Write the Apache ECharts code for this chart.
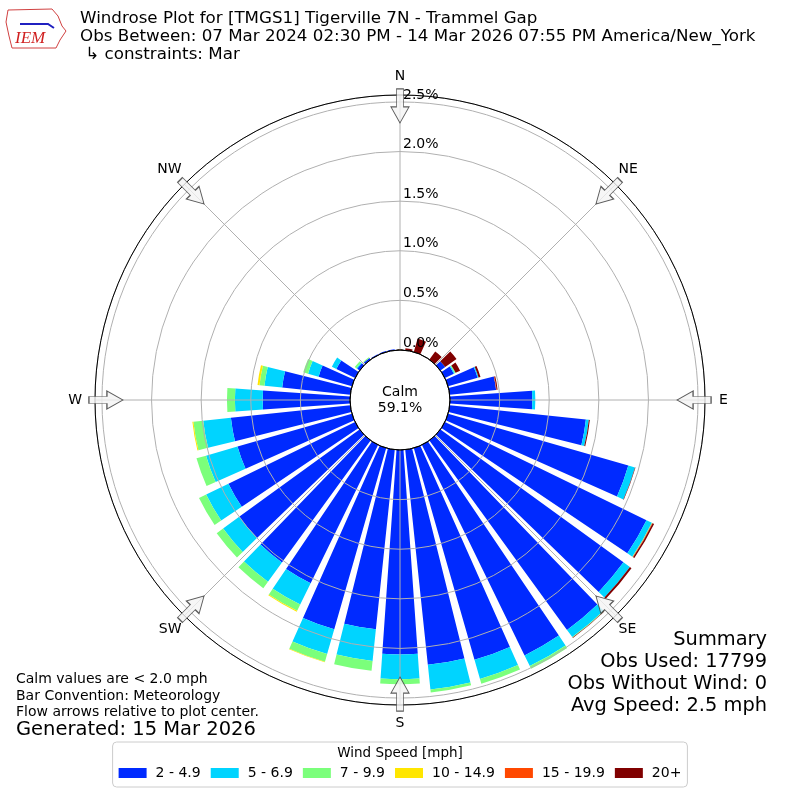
<!DOCTYPE html>
<html>
<head>
<meta charset="utf-8">
<title>Windrose TMGS1</title>
<script src="https://cdn.jsdelivr.net/npm/echarts@6/dist/echarts.min.js"></script>
<style>
html, body { margin: 0; padding: 0; background: #fff; }
#chart { width: 800px; height: 800px; }
</style>
</head>
<body>
<div id="chart"></div>
<script>
// direction bins, degrees from north (bin centres)
var directions = [0, 10, 20, 30, 40, 50, 60, 70, 80, 90, 100, 110, 120, 130, 140, 150, 160, 170,
                  180, 190, 200, 210, 220, 230, 240, 250, 260, 270, 280, 290, 300, 310, 320, 330, 340, 350];
var speedBins = ['2 - 4.9', '5 - 6.9', '7 - 9.9', '10 - 14.9', '15 - 19.9', '20+'];

// percent of observations, one value per direction bin
var spd2to5 = [0.005, 0, 0, 0, 0, 0.06, 0.10, 0.31, 0.47, 0.83, 1.38, 1.89, 2.26, 2.28, 2.36, 2.36, 2.22, 2.18,
               2.06, 1.82, 1.90, 1.55, 1.52, 1.50, 1.42, 1.20, 1.21, 0.88, 0.69, 0.35, 0.21, 0.03, 0.02, 0.01, 0.01, 0.01];
var spd5to7 = [0, 0, 0, 0, 0, 0, 0.01, 0.01, 0, 0.03, 0.03, 0.07, 0.06, 0.08, 0.09, 0.12, 0.20, 0.25,
               0.25, 0.32, 0.26, 0.24, 0.24, 0.20, 0.25, 0.33, 0.28, 0.28, 0.18, 0.11, 0.05, 0.01, 0, 0, 0, 0];
var spd7to10 = [0, 0, 0, 0, 0, 0, 0.01, 0, 0, 0, 0, 0, 0.005, 0, 0.005, 0.03, 0.05, 0.03,
                0.05, 0.10, 0.08, 0.07, 0.08, 0.08, 0.08, 0.10, 0.10, 0.08, 0.05, 0.05, 0, 0.02, 0.01, 0, 0, 0];
var spd10to15 = [0, 0, 0, 0, 0, 0, 0, 0, 0, 0, 0, 0, 0, 0, 0, 0, 0, 0,
                 0, 0, 0.005, 0.01, 0, 0, 0, 0, 0.01, 0, 0.02, 0, 0, 0, 0, 0, 0, 0];
var spd15to20 = [0, 0, 0, 0, 0, 0, 0, 0, 0.005, 0, 0, 0, 0.005, 0, 0, 0, 0, 0,
                 0, 0, 0, 0, 0, 0, 0, 0, 0, 0, 0, 0, 0, 0, 0, 0, 0, 0];
var spd20up = [0, 0.02, 0.14, 0, 0.10, 0.14, 0.05, 0.02, 0.01, 0, 0.01, 0.005, 0.015, 0.02, 0.005, 0, 0, 0,
               0, 0, 0, 0, 0, 0, 0, 0, 0, 0, 0, 0, 0, 0, 0, 0, 0, 0];

var compassLabels = ['N', 'NE', 'E', 'SE', 'S', 'SW', 'W', 'NW'];
var compassAngles = [0, 45, 90, 135, 180, 225, 270, 315];

var speedColors = ['#002aff', '#00d4ff', '#7bff7b', '#ffe600', '#ff4800', '#800000'];
var speedData = [spd2to5, spd5to7, spd7to10, spd10to15, spd15to20, spd20up];
var FONT = 'DejaVu Sans';
var gridGray = '#b0b0b0';

var myChart = echarts.init(document.getElementById('chart'));

var series = speedBins.map(function (name, i) {
    return {
        name: name,
        type: 'bar',
        coordinateSystem: 'polar',
        polarIndex: 1,
        stack: 'wind',
        barCategoryGap: '20%',
        data: speedData[i],
        itemStyle: { color: speedColors[i] },
        silent: true
    };
});

// flow arrows, pointing to the plot centre
series.push({
    type: 'scatter',
    coordinateSystem: 'polar',
    polarIndex: 0,
    symbol: 'path://M9,0 L18,16 L12.5,16 L12.5,34 L5.5,34 L5.5,16 L0,16 Z',
    symbolSize: [18, 34],
    silent: true,
    z: 20,
    itemStyle: { color: '#f4f4f4', borderColor: '#333', borderWidth: 1 },
    data: compassAngles.map(function (a) {
        return { value: [2.46, a], symbolRotate: 180 - a };
    })
});

// compass label nudges so they sit centred around the ring
var compassRich = {
    c0: { padding: [0, 0, 8, 0] },
    c1: { padding: [0, 0, 5, 0] },
    c2: { padding: [0, 0, 0, 10] },
    c3: { padding: [4, 0, 0, 0] },
    c4: { padding: [7, 0, 0, 0] },
    c5: { padding: [4, 0, 0, 0] },
    c6: { padding: [0, 9, 0, 0] },
    c7: { padding: [0, 0, 5, 0] }
};

var option = {
    animation: false,
    polar: [
        { center: ['50%', '50%'], radius: [50, 305] },
        { center: ['50%', '50%'], radius: [50, 305] }
    ],
    angleAxis: [
        {
            polarIndex: 0,
            type: 'value',
            min: 0,
            max: 360,
            interval: 45,
            startAngle: 90,
            clockwise: true,
            z: 10,
            axisLine: { lineStyle: { color: '#000', width: 1 } },
            axisTick: { show: false },
            axisLabel: {
                margin: 4,
                color: '#000',
                fontFamily: FONT,
                fontSize: 14,
                rich: compassRich,
                formatter: function (v) {
                    if (v >= 360) return '';
                    var k = Math.round(v / 45);
                    return '{c' + k + '|' + compassLabels[k] + '}';
                }
            },
            splitLine: { lineStyle: { color: gridGray, width: 1 } }
        },
        {
            polarIndex: 1,
            type: 'category',
            data: directions,
            startAngle: 95,
            clockwise: true,
            show: false
        }
    ],
    radiusAxis: [
        {
            polarIndex: 0,
            type: 'value',
            min: 0,
            max: 2.57,
            interval: 0.5,
            z: 10,
            axisLine: { show: false },
            axisTick: { show: false },
            axisLabel: {
                showMaxLabel: false,
                margin: -3,
                align: 'left',
                verticalAlign: 'bottom',
                color: '#000',
                fontFamily: FONT,
                fontSize: 14,
                formatter: function (v) { return v.toFixed(1) + '%'; }
            },
            splitLine: {
                lineStyle: {
                    color: ['#000', gridGray, gridGray, gridGray, gridGray, gridGray, gridGray],
                    width: 1
                }
            }
        },
        {
            polarIndex: 1,
            type: 'value',
            min: 0,
            max: 2.57,
            show: false
        }
    ],
    legend: {
        data: speedBins,
        left: 'center',
        top: 742,
        padding: [24, 6, 7, 6],
        itemWidth: 28,
        itemHeight: 10,
        itemGap: 10,
        icon: 'rect',
        borderColor: '#cccccc',
        borderWidth: 1,
        borderRadius: 4,
        textStyle: { fontFamily: FONT, fontSize: 14, color: '#000', padding: [0, 0, 0, 4] }
    },
    graphic: [
        { type: 'text', x: 80, y: 19, style: { text: 'Windrose Plot for [TMGS1] Tigerville 7N - Trammel Gap', font: '16.7px ' + FONT, fill: '#000', verticalAlign: 'middle' } },
        { type: 'text', x: 80, y: 37, style: { text: 'Obs Between: 07 Mar 2024 02:30 PM - 14 Mar 2026 07:55 PM America/New_York', font: '16.7px ' + FONT, fill: '#000', verticalAlign: 'middle' } },
        { type: 'text', x: 80, y: 55, style: { text: ' \u21b3 constraints: Mar', font: '16.7px ' + FONT, fill: '#000', verticalAlign: 'middle' } },
        { type: 'polygon', shape: { points: [[8, 10], [52, 9], [58, 16], [62, 26], [66, 31], [60, 40], [56, 48], [12, 48], [9, 36], [6, 22]] },
          style: { fill: 'none', stroke: '#d04040', lineWidth: 1 } },
        { type: 'polyline', shape: { points: [[20, 24], [48, 24], [54, 28]] }, style: { stroke: '#2020c0', lineWidth: 2 } },
        { type: 'text', x: 15, y: 39, style: { text: 'IEM', font: 'italic 17px "Liberation Serif"', fill: '#d02020', verticalAlign: 'middle' } },
        { type: 'text', x: 400, y: 392, z: 30, style: { text: 'Calm', font: '14px ' + FONT, fill: '#000', align: 'center', verticalAlign: 'middle' } },
        { type: 'text', x: 400, y: 408, z: 30, style: { text: '59.1%', font: '14px ' + FONT, fill: '#000', align: 'center', verticalAlign: 'middle' } },
        { type: 'text', x: 16, y: 679, style: { text: 'Calm values are < 2.0 mph', font: '14px ' + FONT, fill: '#000', verticalAlign: 'middle' } },
        { type: 'text', x: 16, y: 696, style: { text: 'Bar Convention: Meteorology', font: '14px ' + FONT, fill: '#000', verticalAlign: 'middle' } },
        { type: 'text', x: 16, y: 712, style: { text: 'Flow arrows relative to plot center.', font: '14px ' + FONT, fill: '#000', verticalAlign: 'middle' } },
        { type: 'text', x: 16, y: 730, style: { text: 'Generated: 15 Mar 2026', font: '19.5px ' + FONT, fill: '#000', verticalAlign: 'middle' } },
        { type: 'text', x: 767, y: 640, style: { text: 'Summary', font: '19.4px ' + FONT, fill: '#000', align: 'right', verticalAlign: 'middle' } },
        { type: 'text', x: 767, y: 662, style: { text: 'Obs Used: 17799', font: '19.4px ' + FONT, fill: '#000', align: 'right', verticalAlign: 'middle' } },
        { type: 'text', x: 767, y: 684, style: { text: 'Obs Without Wind: 0', font: '19.4px ' + FONT, fill: '#000', align: 'right', verticalAlign: 'middle' } },
        { type: 'text', x: 767, y: 706, style: { text: 'Avg Speed: 2.5 mph', font: '19.4px ' + FONT, fill: '#000', align: 'right', verticalAlign: 'middle' } },
        { type: 'text', x: 400, y: 753, z: 30, style: { text: 'Wind Speed [mph]', font: '13.5px ' + FONT, fill: '#000', align: 'center', verticalAlign: 'middle' } }
    ],
    series: series
};

myChart.setOption(option);
</script>
</body>
</html>
